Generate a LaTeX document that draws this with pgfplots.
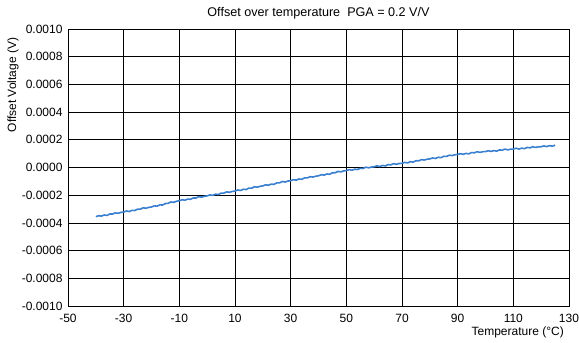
\documentclass[border=0pt]{standalone}
\usepackage{fontspec}
\setmainfont{Liberation Sans}
\usepackage{pgfplots}
\usepackage{pgfplotstable}
\pgfplotsset{compat=1.18}
\definecolor{lineblue}{RGB}{58,128,208}
\pgfplotstableread{
T V
-40 -0.000355
-39 -0.000348
-38 -0.000351
-37 -0.000343
-36 -0.000346
-35 -0.000336
-34 -0.000336
-33 -0.000327
-32 -0.000331
-31 -0.000324
-30 -0.000322
-29 -0.000314
-28 -0.000318
-27 -0.000309
-26 -0.000311
-25 -0.000301
-24 -0.000301
-23 -0.000291
-22 -0.000294
-21 -0.000288
-20 -0.000285
-19 -0.000277
-18 -0.000279
-17 -0.000270
-16 -0.000271
-15 -0.000260
-14 -0.000259
-13 -0.000249
-12 -0.000251
-11 -0.000244
-10 -0.000240
-9 -0.000233
-8 -0.000236
-7 -0.000228
-6 -0.000230
-5 -0.000220
-4 -0.000220
-3 -0.000211
-2 -0.000214
-1 -0.000208
0 -0.000205
1 -0.000198
2 -0.000201
3 -0.000193
4 -0.000195
5 -0.000185
6 -0.000185
7 -0.000176
8 -0.000179
9 -0.000173
10 -0.000170
11 -0.000162
12 -0.000166
13 -0.000157
14 -0.000159
15 -0.000149
16 -0.000149
17 -0.000139
18 -0.000142
19 -0.000136
20 -0.000133
21 -0.000125
22 -0.000128
23 -0.000120
24 -0.000122
25 -0.000111
26 -0.000111
27 -0.000101
28 -0.000105
29 -0.000098
30 -0.000095
31 -0.000088
32 -0.000091
33 -0.000083
34 -0.000085
35 -0.000075
36 -0.000075
37 -0.000066
38 -0.000069
39 -0.000063
40 -0.000060
41 -0.000052
42 -0.000055
43 -0.000047
44 -0.000049
45 -0.000038
46 -0.000038
47 -0.000028
48 -0.000032
49 -0.000025
50 -0.000022
51 -0.000015
52 -0.000020
53 -0.000012
54 -0.000015
55 -0.000006
56 -0.000007
57 0.000002
58 -0.000002
59 0.000003
60 0.000005
61 0.000012
62 0.000007
63 0.000015
64 0.000011
65 0.000021
66 0.000019
67 0.000028
68 0.000023
69 0.000029
70 0.000030
71 0.000037
72 0.000033
73 0.000042
74 0.000039
75 0.000049
76 0.000048
77 0.000057
78 0.000054
79 0.000060
80 0.000062
81 0.000069
82 0.000065
83 0.000074
84 0.000071
85 0.000081
86 0.000080
87 0.000089
88 0.000086
89 0.000092
90 0.000094
91 0.000100
92 0.000095
93 0.000102
94 0.000098
95 0.000108
96 0.000106
97 0.000114
98 0.000109
99 0.000114
100 0.000115
101 0.000121
102 0.000116
103 0.000122
104 0.000118
105 0.000127
106 0.000125
107 0.000133
108 0.000127
109 0.000132
110 0.000133
111 0.000139
112 0.000133
113 0.000140
114 0.000136
115 0.000145
116 0.000142
117 0.000150
118 0.000145
119 0.000149
120 0.000150
121 0.000156
122 0.000151
123 0.000158
124 0.000154
125 0.000161
}\datatable
\begin{document}
\begin{tikzpicture}[font=\fontsize{12bp}{14bp}\selectfont]
\useasboundingbox (-68bp,-37bp) rectangle (511bp,306bp);
\begin{axis}[
  scale only axis,
  width=501bp, height=277bp,
  xmin=-50, xmax=130,
  ymin=-0.001, ymax=0.001,
  xtick={-50,-30,-10,10,30,50,70,90,110,130},
  ytick={-0.001,-0.0008,-0.0006,-0.0004,-0.0002,0,0.0002,0.0004,0.0006,0.0008,0.001},
  scaled y ticks=false,
  /pgf/number format/assume math mode=true,
  yticklabel style={xshift=-2bp, /pgf/number format/.cd, fixed, fixed zerofill, precision=4},
  xticklabel style={anchor=base, yshift=-16bp, inner sep=1bp},
  major tick length=0pt,
  grid=major,
  major grid style={black, line width=0.8bp},
  axis line style={black, line width=0.8bp},
  every axis title shift=0pt,
  title={Offset over temperature\ \ PGA = 0.2 V/V},
  title style={at={(axis description cs:0.5,1)}, anchor=base, yshift=13bp, font=\fontsize{12.6bp}{14bp}\selectfont},
  xlabel={Temperature (°C)},
  xlabel style={at={(axis description cs:1,0)}, anchor=base east, xshift=-4bp, yshift=-29bp, inner sep=1bp},
  ylabel={Offset Voltage (V)},
  ylabel style={at={(axis description cs:-0.1098,0.798)}, anchor=center},
]
\addplot[lineblue, line width=1.6bp, line join=round] table[x=T, y=V] {\datatable};
\end{axis}
\end{tikzpicture}
\end{document}
